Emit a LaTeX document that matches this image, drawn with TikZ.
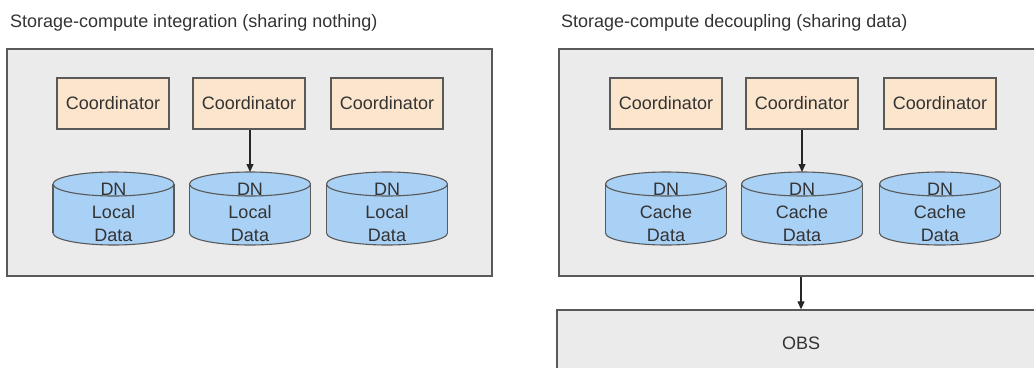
\documentclass[tikz,border=0pt]{standalone}
\usepackage{fontspec}
\setmainfont{Liberation Sans}
\usetikzlibrary{arrows.meta,calc}
\definecolor{panelfill}{HTML}{EBEBEB}
\definecolor{edgecol}{HTML}{595959}
\definecolor{coordfill}{HTML}{FCE5CD}
\definecolor{drumfill}{HTML}{A9D0F5}
\definecolor{txtcol}{HTML}{333333}
\tikzset{
  every node/.style={font=\fontsize{18}{23}\selectfont, text=txtcol},
  panel/.style={draw=edgecol, fill=panelfill, line width=1.3pt, inner sep=0pt},
  coordbox/.style={draw=edgecol, fill=coordfill, line width=1.1pt, minimum width=112pt, minimum height=51pt, inner sep=0pt},
  drumtext/.style={align=center, inner sep=0pt},
  drumline/.style={draw=edgecol, fill=drumfill, line width=1.1pt},
  drumfillonly/.style={fill=drumfill},
  link/.style={draw=black!85, line width=1.1pt, -{Triangle[length=8pt,width=7pt]}},
  titletext/.style={anchor=west, inner sep=0pt}
}
% #1 name, #2 x centre, #3 second text line
\newcommand\mydrum[3]{%
  \filldraw[drumline] (#2,233) ellipse [x radius=60.5pt, y radius=12pt];
  \fill[drumfillonly] (#2-60.5,184) rectangle (#2+60.5,233);
  \draw[drumline, fill=none] (#2-60.5,184) -- (#2-60.5,233);
  \draw[drumline, fill=none] (#2+60.5,184) -- (#2+60.5,233);
  \filldraw[drumline] (#2,184) ellipse [x radius=60.5pt, y radius=12pt];
  \coordinate (#1top) at (#2,172);
  \node[drumtext] (#1) at (#2,212) {DN\\#3\\Data};
}
\begin{document}
\begin{tikzpicture}[x=1pt,y=-1pt]
\useasboundingbox (0,0) rectangle (1034,367);
\clip (0,0) rectangle (1034,367);

% titles
\node[titletext] (tl) at (10,23) {Storage-compute integration (sharing nothing)};
\node[titletext] (tr) at (561,23) {Storage-compute decoupling (sharing data)};

% panels
\node[panel, minimum width=485pt, minimum height=227pt] (pl) at (249.5,162.5) {};
\node[panel, minimum width=484pt, minimum height=227pt] (pr) at (801,162.5) {};
\node[panel, minimum width=488pt, minimum height=66pt] (obs) at (801,343) {OBS};

% coordinators left
\node[coordbox] (cl1) at (113,103.5) {Coordinator};
\node[coordbox] (cl2) at (249,103.5) {Coordinator};
\node[coordbox] (cl3) at (387,103.5) {Coordinator};
% coordinators right
\node[coordbox] (cr1) at (666,103.5) {Coordinator};
\node[coordbox] (cr2) at (802,103.5) {Coordinator};
\node[coordbox] (cr3) at (940,103.5) {Coordinator};

% drums left
\mydrum{dl1}{113.5}{Local}
\mydrum{dl2}{250}{Local}
\mydrum{dl3}{387}{Local}
% drums right
\mydrum{dr1}{666}{Cache}
\mydrum{dr2}{802}{Cache}
\mydrum{dr3}{940}{Cache}

% connectors
\draw[link] (cl2.south -| dl2top) -- (dl2top);
\draw[link] (cr2.south -| dr2top) -- (dr2top);
\draw[link] (pr.south) -- (obs.north);
\end{tikzpicture}
\end{document}
